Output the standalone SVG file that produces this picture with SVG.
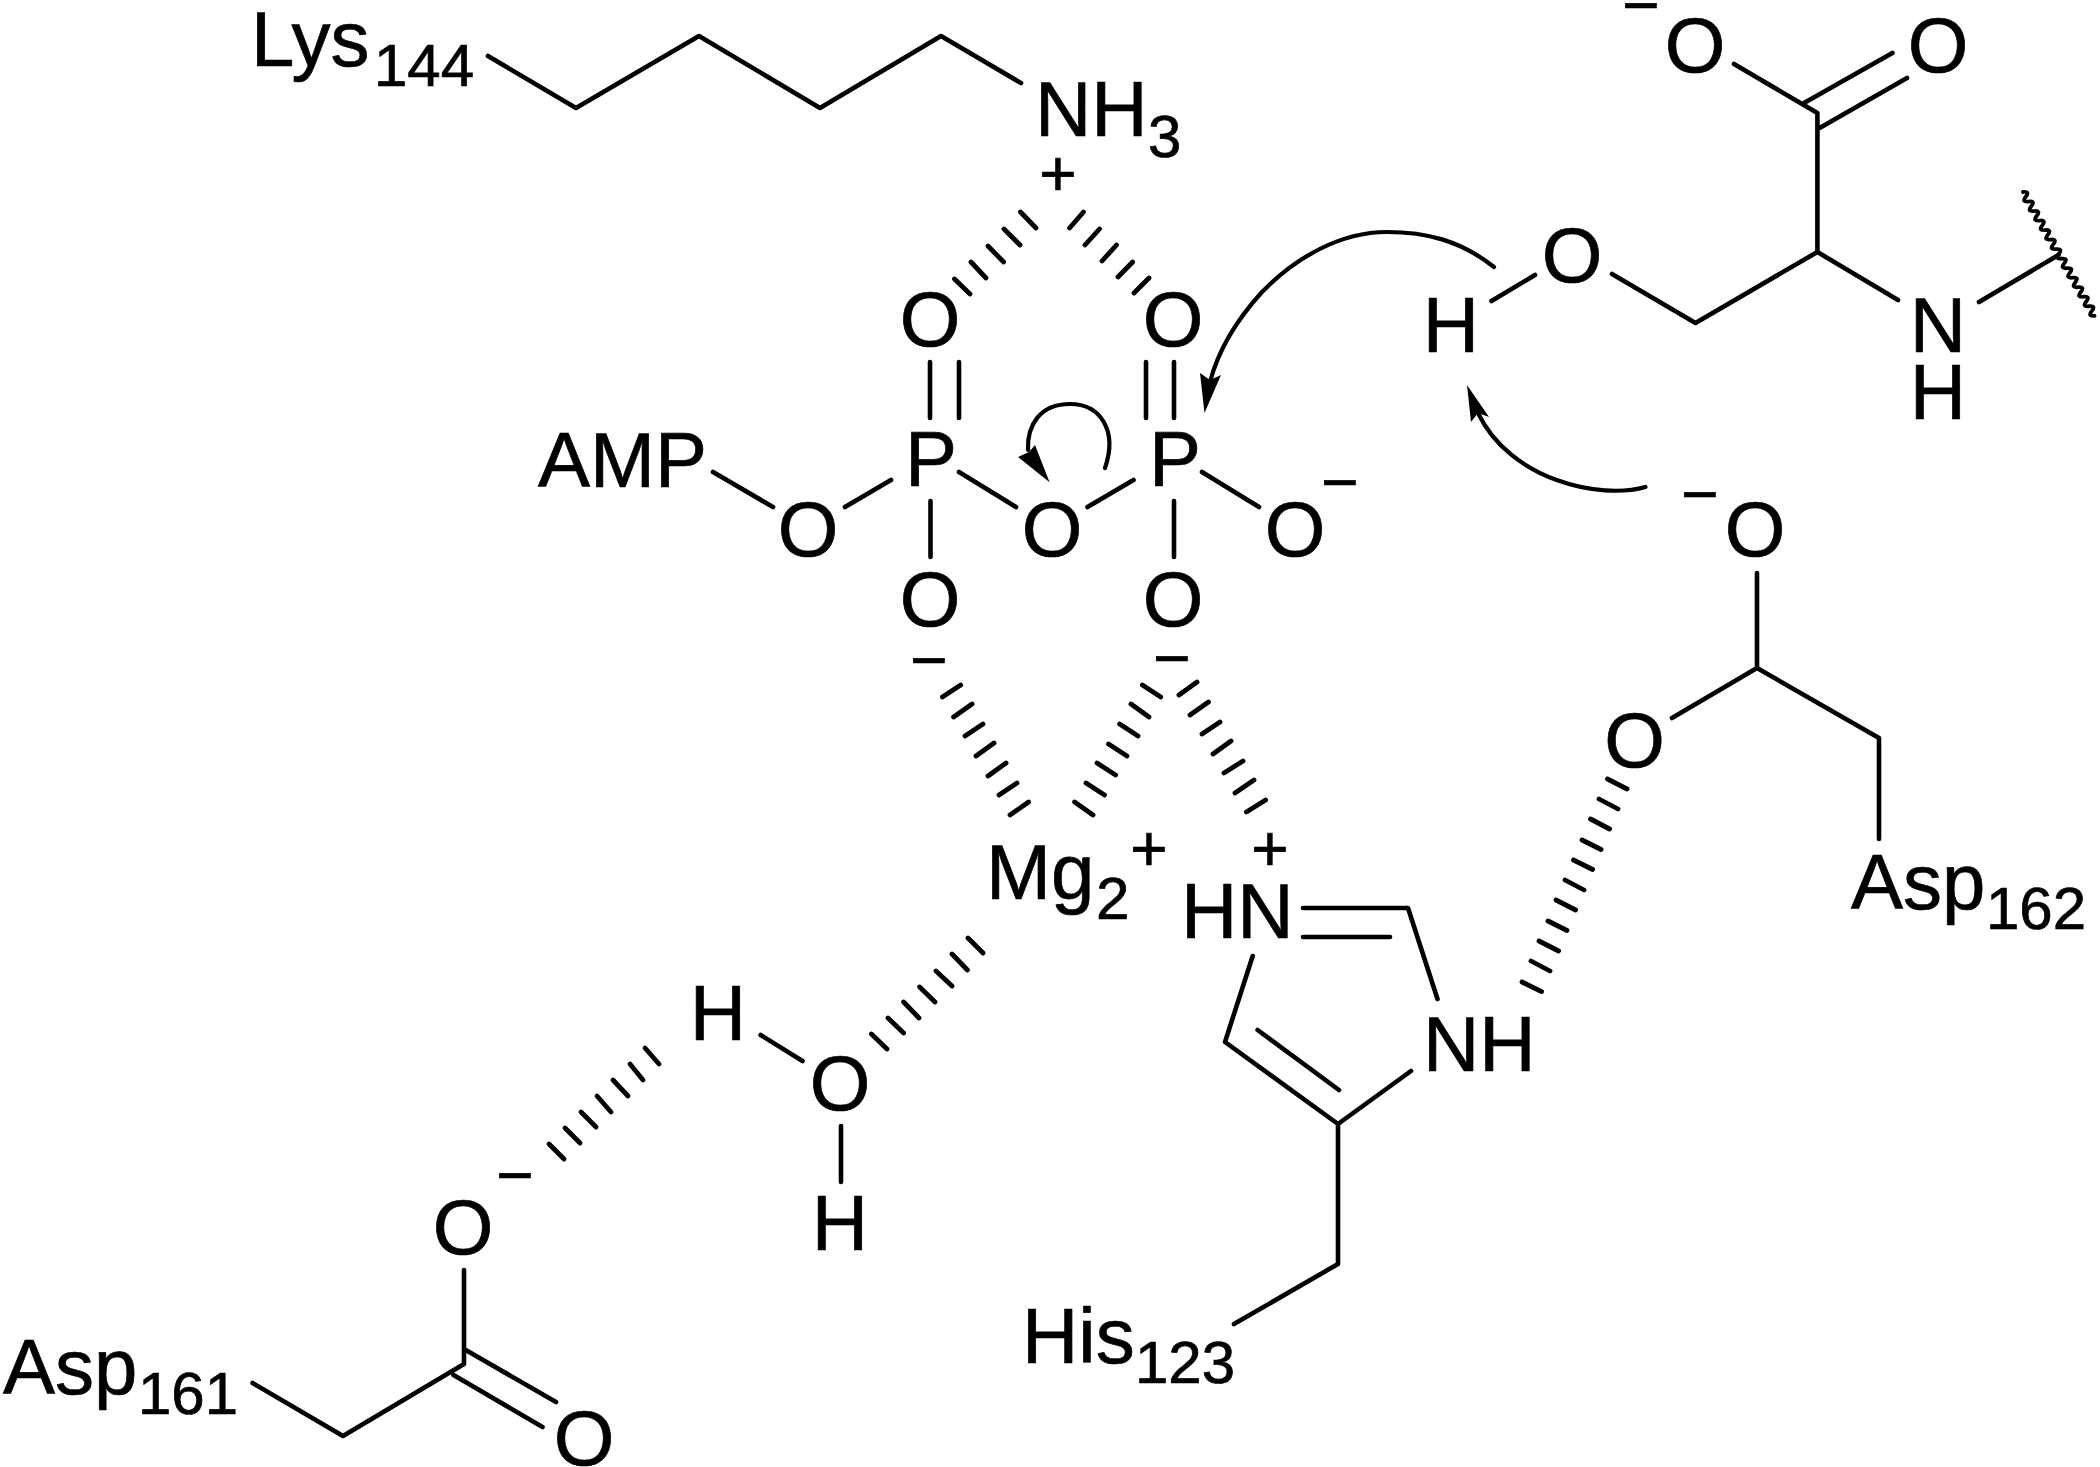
<svg xmlns="http://www.w3.org/2000/svg" width="2100" height="1467" viewBox="0 0 2100 1467">
<style>
text{font-family:"Liberation Sans",Arial,sans-serif;fill:#000;stroke:#000;stroke-width:.7}
.a{font-size:78px}
.m{font-size:78px;text-anchor:middle}
.s{font-size:60px}
.c{font-size:64px;text-anchor:middle}
.b{fill:none;stroke:#000;stroke-width:4.6;stroke-linecap:round;stroke-linejoin:round}
.h{fill:none;stroke:#000;stroke-width:4.8;stroke-linecap:round}
.r{fill:none;stroke:#000;stroke-width:4.2;stroke-linecap:round}
.f{fill:#000;stroke:none}
</style>
<rect width="2100" height="1467" fill="#fff"/>
<g id="connectors">
<g id="bonds">
<path class="b" d="M488 56L576 108L699 36L820 108L941 36L1021 83"/>
<path class="b" d="M930 362V418M959 362V418M1146 362V418M1174 362V418M930.5 501V557M1174 501V557M713 472L773 507M845 507L891 480M959 472L1016 507M1087.5 507L1133.5 480M1202 472L1259 507"/>
<path class="b" d="M1491.5 301L1535 275M1612 274L1695.5 323L1817.4 252V113L1734 64M1804 103L1892.4 53M1819.6 128L1907 78M1817.4 252L1898 300M1979 302L2058.5 255"/>
<path class="b" style="stroke-width:3.8" d="M2023 192q7.2 -.8 2.75 4.76t2.75 4.76t2.75 4.76t2.75 4.76t2.75 4.76t2.75 4.76t2.75 4.76t2.75 4.76t2.75 4.76t2.75 4.76t2.75 4.76t2.75 4.76t2.75 4.76t2.75 4.76t2.75 4.76t2.75 4.76t2.75 4.76t2.75 4.76t2.75 4.76t2.75 4.76t2.75 4.76t2.75 4.76t2.75 4.76t2.75 4.76t2.75 4.76t2.75 4.76"/>
<path class="b" d="M1757 573V668L1672 718M1757 668L1879 738V839"/>
<path class="b" d="M1303 908H1408L1437.5 999M1303 937H1390M1252.7 956L1225 1042L1338 1124L1411 1071M1257.6 1030L1339 1090M1338 1124V1264L1234 1324"/>
<path class="b" d="M760.6 1035L802.5 1061M841 1126V1182"/>
<path class="b" d="M464 1270V1364L343 1436L252.6 1383M464 1349L556 1402M453.5 1375L542.5 1427"/>
</g>
<g id="hashed-bonds">
<path class="h" d="M1020.5 212L1036 228M1004 229L1020 245M988 246L1003.6 262M971 262L986 278M954.5 279L970 294"/>
<path class="h" d="M1083.5 212L1069.6 228M1099.5 229L1085 245M1116.5 245L1102 261M1132.6 262L1118 277M1149 278L1134 293"/>
<path class="h" d="M960.7 685L942.4 697M972 704L953.6 717M983 724L965 736M994 743L976 756M1006 763L988 776M1017 783L999 795M1028.6 802L1010 815"/>
<path class="h" d="M1142.4 685L1160.7 697M1131 704L1149 717M1119.6 724L1138 736M1108.5 744L1127 756M1097 763L1115.6 775M1086 783L1104.5 795M1074.6 802L1093 815"/>
<path class="h" d="M1197 682L1179 695M1208.5 702L1190 715M1220 722L1202 734M1231 741L1213 754M1243 761L1224 773M1254 780L1235 793M1265.6 800L1246.4 812"/>
<path class="h" d="M968 938L983 953M952 954L967.4 970M936 971L952 986M919.6 987L935 1002M903.6 1002L919 1018M888 1018L903.6 1033M871.4 1034L887 1049"/>
<path class="h" d="M645 1048L659 1064M630 1064L643 1080M613 1080L628 1096M597 1096L611 1112M581 1112L596 1127M565 1128L580 1143M549 1144L564 1159"/>
<path class="h" d="M1607.5 779L1627 789M1599 799L1618 809M1590.5 819L1609.6 829M1582 840L1601 849.5M1573.5 860L1592.6 869.5M1565 880L1584 890M1556 900L1575.6 910M1548 921L1567 930.5M1539 941L1558.6 951M1531 961L1550 971M1522 982L1541.6 991.6"/>
</g>
<g id="curved-arrows">
<path class="r" d="M1494 267C1460 240 1425 232 1387 232C1340 232 1295 258 1262 292C1232 325 1217 355 1210 382"/>
<path class="f" d="M1204.5 413L1200 373L1210 380L1221 375Z"/>
<path class="r" d="M1105 468C1118 430 1100 404 1070 404C1040 404 1027 425 1028 450"/>
<path class="f" d="M1049.6 482.3L1018 457L1029 452L1035 445Z"/>
<path class="r" d="M1645.5 487C1600 500 1510 480 1478 413"/>
<path class="f" d="M1467 385L1471 422L1478 413L1489 417Z"/>
</g>
</g>
<g id="lys144">
<text class="a" x="251" y="66">Lys</text><text class="s" x="374" y="86">144</text>
<text class="a" x="1035" y="136">NH</text><text class="s" x="1148" y="157">3</text>
<text class="c" x="1058" y="196">+</text>
</g>
<g id="amp-diphosphate">
<text class="a" x="538" y="487">AMP</text>
<text class="m" x="808" y="556">O</text>
<text class="m" x="931" y="486">P</text>
<text class="m" x="1175" y="486">P</text>
<text class="m" x="930" y="346">O</text>
<text class="m" x="1173" y="346">O</text>
<text class="m" x="1052" y="556">O</text>
<text class="m" x="1295" y="556">O</text>
<text class="c" x="1340" y="504">−</text>
<text class="m" x="930" y="626">O</text>
<text class="m" x="1173" y="626">O</text>
<text class="c" x="929" y="682">−</text>
<text class="c" x="1172" y="680">−</text>
</g>
<g id="serine">
<text class="m" x="1451" y="352">H</text>
<text class="m" x="1572" y="282">O</text>
<text class="m" x="1695" y="72">O</text>
<text class="c" x="1641" y="27">−</text>
<text class="m" x="1938" y="72">O</text>
<text class="m" x="1938" y="352">N</text>
<text class="m" x="1938" y="419">H</text>
</g>
<g id="asp162">
<text class="c" x="1700" y="516">−</text>
<text class="m" x="1755" y="556">O</text>
<text class="m" x="1634.5" y="767">O</text>
<text class="a" x="1851" y="909">Asp</text><text class="s" x="1986" y="929">162</text>
</g>
<g id="mg">
<text class="a" x="986" y="899">Mg</text><text class="s" x="1096" y="919">2</text>
<text class="c" x="1149" y="871">+</text>
</g>
<g id="his123">
<text class="c" x="1270" y="871">+</text>
<text class="a" x="1181" y="938">HN</text>
<text class="a" x="1423" y="1071">NH</text>
<text class="a" x="1022" y="1363">His</text><text class="s" x="1135" y="1383">123</text>
</g>
<g id="water">
<text class="m" x="718" y="1040">H</text>
<text class="m" x="840" y="1110">O</text>
<text class="m" x="840" y="1250">H</text>
</g>
<g id="asp161">
<text class="c" x="515" y="1197">−</text>
<text class="m" x="463" y="1254">O</text>
<text class="a" x="3" y="1394">Asp</text><text class="s" x="138" y="1414">161</text>
<text class="m" x="584" y="1465">O</text>
</g>
</svg>
